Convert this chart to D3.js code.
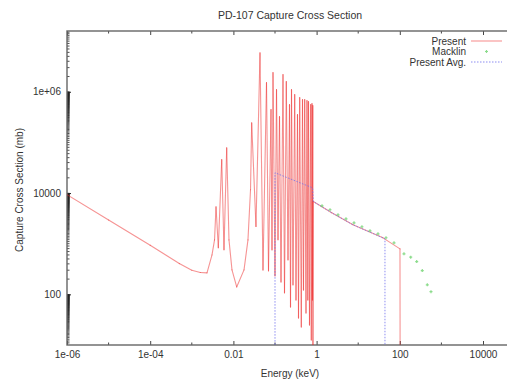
<!DOCTYPE html>
<html>
<head>
<meta charset="utf-8">
<script src="https://cdn.jsdelivr.net/npm/d3@7"></script>
<style>
  body { margin: 0; background: #fff; }
  svg { display: block; font-family: "Liberation Sans", Arial, sans-serif; }
  .tick text { font-size: 10px; fill: #333; }
</style>
</head>
<body>
<div id="chart"></div>
<script>
// Present (resolved resonances + smooth part), keV / mb
const presentE = [1e-6, 1e-5, 1e-4, 5e-4, 1e-3, 1.6e-3, 2.32e-3, 3.06e-3, 3.52e-3, 3.82e-3, 4.34e-3,
  5.24e-3, 5.94e-3, 6.9e-3, 7.83e-3, 9.25e-3, 0.012, 0.018, 0.0224, 0.0258, 0.0275, 0.0349, 0.0436,
  0.05145, 0.06247, 0.06981, 0.08015, 0.08472, 0.08952, 0.1, 0.1087, 0.1181, 0.1283, 0.1394,
  0.1557, 0.1692, 0.1869, 0.2054, 0.2232, 0.2359, 0.2493, 0.2708, 0.2976, 0.3197, 0.3474,
  0.3672, 0.3925, 0.4287, 0.4582, 0.4843, 0.5174, 0.5561, 0.5877, 0.6144, 0.6386, 0.6749,
  0.7214, 0.7457, 0.7750, 0.7967, 0.8102, 0.815, 0.834, 2.31, 7.5, 39.4, 101, 102];
const presentXS = [9300, 2930, 930, 405, 300, 270, 266, 600, 1190, 5370, 830,
  45700, 760, 78700, 1190, 304, 140, 304, 1190, 11600, 243000, 2190, 5.9e6,
  304, 1.52e6, 291, 4.45e5, 757, 2.40e6, 232, 1.105e6, 1194, 3.23e5, 176,
  2.19e6, 107, 1.59e6, 480, 5.58e5, 56.4, 1.105e6, 154, 8.80e5, 77.6, 3.54e5,
  34.2, 7.68e5, 22.7, 7.01e5, 122, 7.01e5, 43, 6.70e5, 77.6, 6.40e5, 24.9,
  5.58e5, 12.6, 5.85e5, 77.6, 5.33e5, 1, 6820, 4080, 2360, 1306, 792, 1];

// Macklin measurement
const macklinE = [1.35, 2.10, 3.27, 5.09, 7.93, 12.3, 19.2, 29.9, 46.6, 72.6, 126, 183, 255, 347, 458, 562];
const macklinXS = [5610, 4680, 3720, 3100, 2590, 2160, 1800, 1570, 1310, 1040, 630, 543, 444, 295, 154, 113];

// Present average
const avgE = [0.1, 0.1, 0.8, 0.834, 2.31, 7.5, 39.4, 44, 44];
const avgXS = [1, 25200, 12700, 6820, 4080, 2360, 1306, 1250, 1];

const xTicks = [1e-6, 1e-4, 0.01, 1, 100, 10000];
const xTickLabels = ["1e-06", "1e-04", "0.01", "1", "100", "10000"];
const xMinor = [1e-5, 1e-3, 0.1, 10, 1000];
const yTicks = [100, 10000, 1e6];
const yTickLabels = ["100", "10000", "1e+06"];

const W = 507, H = 380;
const L = 67, T = 31, B = 345, R = 524.6;

const svg = d3.select('#chart').append('svg')
  .attr('width', W).attr('height', H);

const x = d3.scaleLog().domain([1e-6, 1e5]).range([L, R]);
const y = d3.scaleLog().domain([10, Math.pow(10, 7.2)]).range([B, T]);

svg.append('defs').append('clipPath').attr('id', 'plot')
  .append('rect').attr('x', L).attr('y', T).attr('width', R - L).attr('height', B - T);

// minor ticks on y: k * 10^(2n), dense like gnuplot
const yMinor = [];
[1, 100, 10000, 1e6].forEach(base => {
  for (let k = 2; k < 100; k++) {
    const v = k * base;
    if (v > 10 && v < Math.pow(10, 7.2)) yMinor.push(v);
  }
});
svg.append('g').selectAll('line').data(yMinor).join('line')
  .attr('x1', L).attr('x2', L + 2.5)
  .attr('y1', d => y(d)).attr('y2', d => y(d))
  .attr('stroke', '#222').attr('stroke-width', 0.8);

// x minor ticks bottom and top
svg.append('g').selectAll('line').data(xMinor).join('line')
  .attr('x1', d => x(d)).attr('x2', d => x(d))
  .attr('y1', B).attr('y2', B - 2.5)
  .attr('stroke', '#444');
svg.append('g').selectAll('line').data(xMinor).join('line')
  .attr('x1', d => x(d)).attr('x2', d => x(d))
  .attr('y1', T).attr('y2', T + 2.5)
  .attr('stroke', '#444');

const xAxis = svg.append('g').attr('transform', `translate(0,${B})`)
  .call(d3.axisBottom(x).tickValues(xTicks).tickFormat((d, i) => xTickLabels[i])
    .tickSizeInner(-4).tickSizeOuter(0).tickPadding(6));
xAxis.select('.domain').remove();
xAxis.selectAll('.tick line').attr('stroke', '#444');

const xTop = svg.append('g').attr('transform', `translate(0,${T})`)
  .call(d3.axisTop(x).tickValues(xTicks).tickFormat('').tickSizeInner(-4).tickSizeOuter(0));
xTop.select('.domain').remove();
xTop.selectAll('.tick line').attr('stroke', '#444');

const yAxis = svg.append('g').attr('transform', `translate(${L},0)`)
  .call(d3.axisLeft(y).tickValues(yTicks).tickFormat((d, i) => yTickLabels[i])
    .tickSizeInner(-4).tickSizeOuter(0).tickPadding(6));
yAxis.select('.domain').remove();
yAxis.selectAll('.tick line').attr('stroke', '#222');

// frame
svg.append('rect').attr('x', L).attr('y', T).attr('width', R - L).attr('height', B - T)
  .attr('fill', 'none').attr('stroke', '#666').attr('stroke-width', 1.4);

const line = d3.line().x(d => x(d[0])).y(d => y(d[1]));
const plot = svg.append('g').attr('clip-path', 'url(#plot)');

// draw present as separate segments so overlapping resonances build up colour
const presentPts = presentE.map((e, i) => [e, presentXS[i]]);
const segs = d3.pairs(presentPts);
plot.append('g').selectAll('line').data(segs).join('line')
  .attr('x1', d => x(d[0][0])).attr('y1', d => y(d[0][1]))
  .attr('x2', d => x(d[1][0])).attr('y2', d => y(d[1][1]))
  .attr('stroke', '#ee2a2a').attr('stroke-opacity', 0.5)
  .attr('stroke-width', 1.1).attr('stroke-linecap', 'round');

plot.append('path')
  .attr('d', line(avgE.map((e, i) => [e, avgXS[i]])))
  .attr('fill', 'none').attr('stroke', '#7070ee').attr('stroke-opacity', 0.8)
  .attr('stroke-width', 1).attr('stroke-dasharray', '1.5,1.5');

plot.append('g').selectAll('path').data(macklinE.map((e, i) => [e, macklinXS[i]])).join('path')
  .attr('d', d => { const px = x(d[0]), py = y(d[1]);
    return `M${px - 1.5},${py}H${px + 1.5}M${px},${py - 1.5}V${py + 1.5}`; })
  .attr('stroke', '#66d066').attr('stroke-width', 1.2).attr('stroke-opacity', 0.75);

// legend
const lg = svg.append('g').attr('font-size', 10).attr('fill', '#333');
const legendRows = ["Present", "Macklin", "Present Avg."];
legendRows.forEach((t, i) => {
  const ly = 41 + i * 10.5;
  lg.append('text').attr('x', 466).attr('y', ly + 3.5).attr('text-anchor', 'end').text(t);
});
lg.append('line').attr('x1', 471).attr('x2', 502).attr('y1', 41).attr('y2', 41)
  .attr('stroke', '#ee2a2a').attr('stroke-opacity', 0.55);
lg.append('path').attr('d', 'M485,51.5H488M486.5,50V53')
  .attr('stroke', '#66d066').attr('stroke-width', 1.2).attr('stroke-opacity', 0.75);
lg.append('line').attr('x1', 471).attr('x2', 502).attr('y1', 62).attr('y2', 62)
  .attr('stroke', '#7070ee').attr('stroke-dasharray', '1.5,1.5').attr('stroke-opacity', 0.8);

// titles
svg.append('text').attr('x', 290).attr('y', 19).attr('text-anchor', 'middle')
  .attr('font-size', 10.5).attr('fill', '#333').text('PD-107 Capture Cross Section');
svg.append('text').attr('x', 290).attr('y', 377).attr('text-anchor', 'middle')
  .attr('font-size', 10).attr('fill', '#333').text('Energy (keV)');
svg.append('text').attr('transform', 'translate(23,190) rotate(-90)').attr('text-anchor', 'middle')
  .attr('font-size', 10).attr('fill', '#333').text('Capture Cross Section (mb)');
</script>
</body>
</html>
